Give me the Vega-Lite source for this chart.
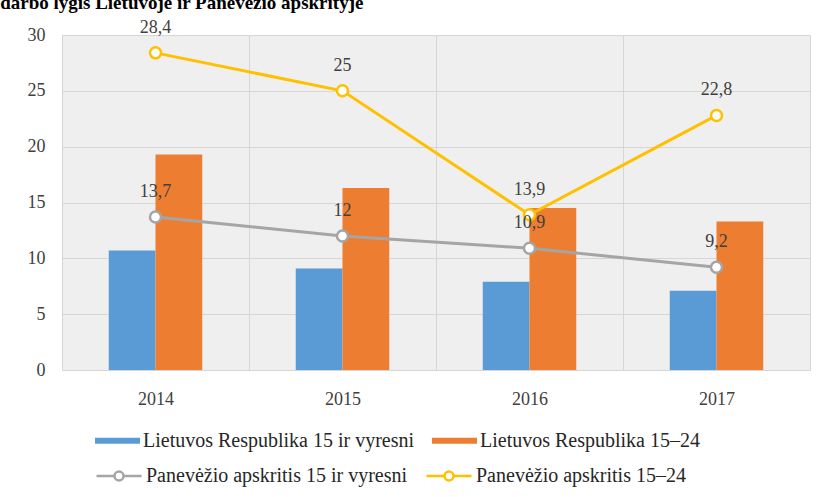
{
  "$schema": "https://vega.github.io/schema/vega-lite/v6.json",
  "width": 748,
  "height": 335,
  "autosize": {"type": "none"},
  "padding": {"left": 62, "top": 35, "right": 14, "bottom": 127},
  "background": "white",
  "title": {
    "text": "Nedarbo lygis Lietuvoje ir Panevėžio apskrityje",
    "font": "Liberation Serif",
    "fontSize": 19,
    "fontWeight": "bold",
    "color": "black",
    "anchor": "start",
    "frame": "group",
    "baseline": "alphabetic",
    "dx": -84,
    "dy": 21,
    "offset": 12
  },
  "datasets": {
    "bars": [
      {"year": "2014", "series": "Lietuvos Respublika 15 ir vyresni", "value": 10.7},
      {"year": "2014", "series": "Lietuvos Respublika 15–24", "value": 19.3},
      {"year": "2015", "series": "Lietuvos Respublika 15 ir vyresni", "value": 9.1},
      {"year": "2015", "series": "Lietuvos Respublika 15–24", "value": 16.3},
      {"year": "2016", "series": "Lietuvos Respublika 15 ir vyresni", "value": 7.9},
      {"year": "2016", "series": "Lietuvos Respublika 15–24", "value": 14.5},
      {"year": "2017", "series": "Lietuvos Respublika 15 ir vyresni", "value": 7.1},
      {"year": "2017", "series": "Lietuvos Respublika 15–24", "value": 13.3}
    ],
    "lines": [
      {"year": "2014", "series": "Panevėžio apskritis 15 ir vyresni", "value": 13.7},
      {"year": "2015", "series": "Panevėžio apskritis 15 ir vyresni", "value": 12},
      {"year": "2016", "series": "Panevėžio apskritis 15 ir vyresni", "value": 10.9},
      {"year": "2017", "series": "Panevėžio apskritis 15 ir vyresni", "value": 9.2},
      {"year": "2014", "series": "Panevėžio apskritis 15–24", "value": 28.4},
      {"year": "2015", "series": "Panevėžio apskritis 15–24", "value": 25},
      {"year": "2016", "series": "Panevėžio apskritis 15–24", "value": 13.9},
      {"year": "2017", "series": "Panevėžio apskritis 15–24", "value": 22.8}
    ]
  },
  "config": {
    "view": {"fill": "#efefef", "stroke": null},
    "font": "Liberation Serif",
    "text": {"font": "Liberation Serif"},
    "axis": {
      "labelFont": "Liberation Serif",
      "labelFontSize": 18,
      "labelColor": "#404040",
      "gridColor": "#d6d6d6",
      "gridWidth": 1,
      "domain": false,
      "ticks": false,
      "title": null
    },
    "legend": {
      "labelFont": "Liberation Serif",
      "labelFontSize": 20,
      "labelColor": "#262626",
      "labelLimit": 400
    },
    "locale": {
      "number": {"decimal": ",", "thousands": " ", "grouping": [3], "currency": ["", " €"]}
    }
  },
  "layer": [
    {
      "data": {"name": "bars"},
      "mark": {"type": "bar"},
      "encoding": {
        "x": {
          "field": "year",
          "type": "nominal",
          "scale": {"paddingInner": 0, "paddingOuter": 0},
          "axis": {"grid": true, "tickBand": "extent", "labelAngle": 0, "labelPadding": 20, "labelFont": "Liberation Serif"}
        },
        "xOffset": {
          "field": "series",
          "type": "nominal",
          "scale": {
            "domain": ["Lietuvos Respublika 15 ir vyresni", "Lietuvos Respublika 15–24"],
            "paddingInner": 0,
            "paddingOuter": 1.226
          }
        },
        "y": {
          "field": "value",
          "type": "quantitative",
          "scale": {"domain": [0, 30], "nice": false},
          "axis": {"values": [0, 5, 10, 15, 20, 25, 30], "labelPadding": 17, "grid": true, "labelFont": "Liberation Serif"}
        },
        "fill": {
          "field": "series",
          "type": "nominal",
          "scale": {
            "domain": ["Lietuvos Respublika 15 ir vyresni", "Lietuvos Respublika 15–24"],
            "range": ["#5b9bd5", "#ed7d31"]
          },
          "legend": {
            "orient": "none",
            "legendX": 33,
            "legendY": 383,
            "direction": "horizontal",
            "title": null,
            "symbolType": "M-1,-0.133H1V0.133H-1Z",
            "symbolSize": 2025,
            "symbolStrokeWidth": 0,
            "labelOffset": 3,
            "columnPadding": 17
          }
        }
      }
    },
    {
      "data": {"name": "lines"},
      "mark": {"type": "line", "strokeWidth": 3},
      "encoding": {
        "x": {"field": "year", "type": "nominal"},
        "y": {"field": "value", "type": "quantitative"},
        "stroke": {
          "field": "series",
          "type": "nominal",
          "scale": {
            "domain": ["Panevėžio apskritis 15 ir vyresni", "Panevėžio apskritis 15–24"],
            "range": ["#a5a5a5", "#ffc000"]
          },
          "legend": {
            "orient": "none",
            "legendX": 33,
            "legendY": 417,
            "direction": "horizontal",
            "title": null,
            "symbolType": "M-1,0H-0.2M0.2,0H1M-0.2,0A0.2,0.2 0 1,0 0.2,0A0.2,0.2 0 1,0 -0.2,0",
            "symbolSize": 2025,
            "symbolStrokeWidth": 2.5,
            "symbolFillColor": "white",
            "labelOffset": 3,
            "columnPadding": 13
          }
        }
      }
    },
    {
      "data": {"name": "lines"},
      "mark": {"type": "point", "filled": true, "fill": "white", "size": 121, "strokeWidth": 2.5, "opacity": 1},
      "encoding": {
        "x": {"field": "year", "type": "nominal"},
        "y": {"field": "value", "type": "quantitative"},
        "stroke": {
          "field": "series",
          "type": "nominal",
          "legend": {
            "orient": "none",
            "legendX": 33,
            "legendY": 417,
            "direction": "horizontal",
            "title": null,
            "symbolType": "M-1,0H-0.2M0.2,0H1M-0.2,0A0.2,0.2 0 1,0 0.2,0A0.2,0.2 0 1,0 -0.2,0",
            "symbolSize": 2025,
            "symbolStrokeWidth": 2.5,
            "symbolFillColor": "white",
            "labelOffset": 3,
            "columnPadding": 13
          }
        }
      }
    },
    {
      "data": {"name": "lines"},
      "mark": {"type": "text", "dy": -20, "baseline": "alphabetic", "fontSize": 18, "color": "#404040", "font": "Liberation Serif"},
      "encoding": {
        "x": {"field": "year", "type": "nominal"},
        "y": {"field": "value", "type": "quantitative"},
        "text": {"field": "value", "type": "quantitative", "format": ".1~f"}
      }
    }
  ]
}
